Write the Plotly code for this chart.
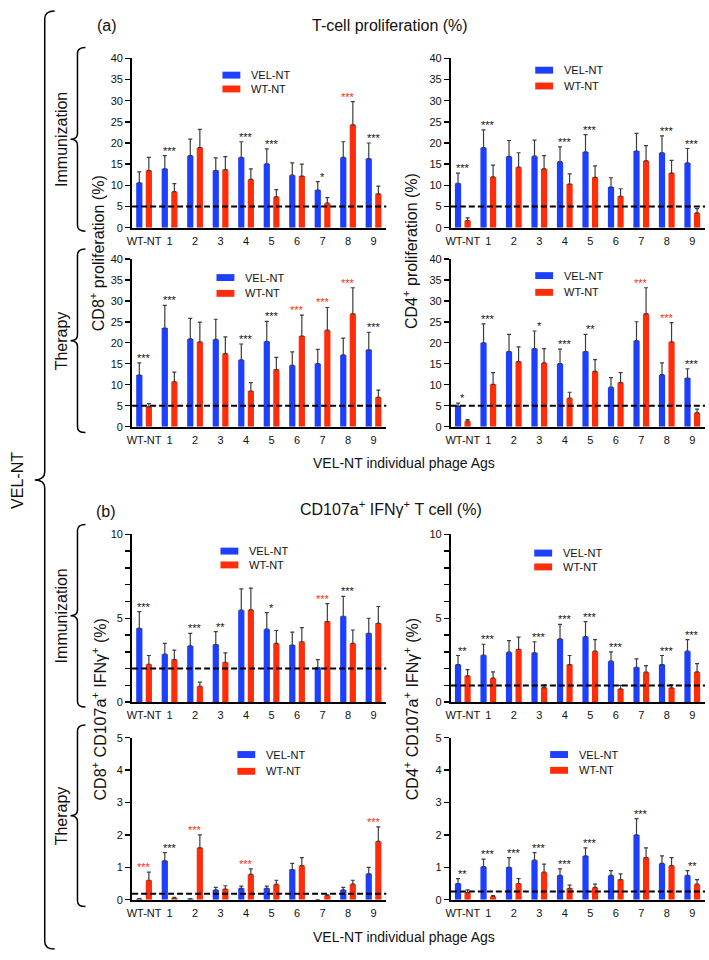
import plotly.graph_objects as go

W, H = 709, 960
FONT = "Liberation Sans, Arial, Helvetica, sans-serif"
NARROW = "Liberation Sans Narrow, Arial Narrow, Liberation Sans, Arial, sans-serif"
BLUE = "#1f3fff"
RED = "#ff2d0a"
STAR_RED = "#ff2d0a"

categories = ["WT-NT", "1", "2", "3", "4", "5", "6", "7", "8", "9"]
series_names = ["VEL-NT", "WT-NT"]

# (a) T-cell proliferation, Immunization, CD8+
a_imm_cd8_vel = [10.6, 13.9, 17.0, 13.5, 16.6, 15.1, 12.4, 8.9, 16.6, 16.3]
a_imm_cd8_vel_sd = [2.6, 3.1, 3.9, 3.0, 3.7, 3.5, 2.9, 2.0, 3.7, 3.7]
a_imm_cd8_wt = [13.5, 8.5, 18.9, 13.7, 11.4, 7.3, 12.2, 5.8, 24.3, 8.0]
a_imm_cd8_wt_sd = [3.1, 1.9, 4.3, 3.1, 2.5, 1.7, 2.8, 1.3, 5.5, 1.8]
a_imm_cd8_stars = ["", "***", "", "", "***", "***", "", "*", "***", "***"]
a_imm_cd8_star_red = [0, 0, 0, 0, 0, 0, 0, 0, 1, 0]

# (a) Immunization, CD4+
a_imm_cd4_vel = [10.5, 18.9, 16.8, 16.9, 15.6, 17.9, 9.6, 18.1, 17.7, 15.3]
a_imm_cd4_vel_sd = [2.4, 4.2, 3.8, 3.8, 3.5, 4.1, 2.2, 4.2, 4.0, 3.4]
a_imm_cd4_wt = [1.7, 12.0, 14.3, 13.9, 10.3, 11.9, 7.4, 15.8, 12.9, 3.5]
a_imm_cd4_wt_sd = [0.6, 2.8, 3.4, 3.1, 2.4, 2.7, 1.8, 3.6, 3.0, 1.0]
a_imm_cd4_stars = ["***", "***", "", "", "***", "***", "", "", "***", "***"]
a_imm_cd4_star_red = [0, 0, 0, 0, 0, 0, 0, 0, 0, 0]

# (a) Therapy, CD8+
a_ther_cd8_vel = [12.3, 23.5, 20.9, 20.8, 15.9, 20.3, 14.6, 15.0, 17.1, 18.3]
a_ther_cd8_vel_sd = [2.9, 5.4, 4.9, 4.8, 3.8, 4.8, 3.2, 3.4, 4.0, 4.2]
a_ther_cd8_wt = [4.7, 10.7, 20.2, 17.4, 8.5, 13.6, 21.6, 23.0, 26.9, 7.0]
a_ther_cd8_wt_sd = [0.8, 2.3, 4.7, 4.0, 2.0, 2.9, 5.0, 5.4, 6.2, 1.7]
a_ther_cd8_stars = ["***", "***", "", "", "***", "***", "***", "***", "***", "***"]
a_ther_cd8_star_red = [0, 0, 0, 0, 0, 0, 1, 1, 1, 0]

# (a) Therapy, CD4+
a_ther_cd4_vel = [4.9, 20.0, 17.9, 18.6, 15.0, 17.9, 9.4, 20.5, 12.4, 11.6]
a_ther_cd4_vel_sd = [0.7, 4.5, 4.1, 4.2, 3.5, 4.1, 2.3, 4.5, 2.8, 2.2]
a_ther_cd4_wt = [1.3, 10.1, 15.5, 15.2, 6.8, 13.2, 10.5, 26.9, 20.2, 3.3]
a_ther_cd4_wt_sd = [0.4, 2.8, 3.5, 3.4, 1.4, 2.8, 2.4, 6.2, 4.6, 0.9]
a_ther_cd4_stars = ["*", "***", "", "*", "***", "**", "", "***", "***", "***"]
a_ther_cd4_star_red = [0, 0, 0, 0, 0, 0, 0, 1, 1, 0]

# (b) CD107a+ IFNg+, Immunization, CD8+
b_imm_cd8_vel = [4.4, 2.86, 3.35, 3.43, 5.48, 4.35, 3.4, 2.06, 5.12, 4.1]
b_imm_cd8_vel_sd = [1.0, 0.64, 0.75, 0.77, 1.27, 0.99, 0.77, 0.48, 1.18, 0.9]
b_imm_cd8_wt = [2.26, 2.54, 0.95, 2.38, 5.5, 3.5, 3.6, 4.8, 3.5, 4.7]
b_imm_cd8_wt_sd = [0.52, 0.56, 0.25, 0.56, 1.3, 0.77, 0.84, 1.07, 0.8, 1.0]
b_imm_cd8_stars = ["***", "", "***", "**", "", "*", "", "***", "***", ""]
b_imm_cd8_star_red = [0, 0, 0, 0, 0, 0, 0, 1, 0, 0]

# (b) Immunization, CD4+
b_imm_cd4_vel = [2.24, 2.8, 2.98, 2.94, 3.77, 3.9, 2.44, 2.08, 2.24, 3.04]
b_imm_cd4_vel_sd = [0.54, 0.65, 0.69, 0.66, 0.87, 0.9, 0.56, 0.5, 0.54, 0.69]
b_imm_cd4_wt = [1.57, 1.43, 3.15, 0.87, 2.24, 3.04, 0.79, 1.79, 0.85, 1.8]
b_imm_cd4_wt_sd = [0.37, 0.37, 0.72, 0.16, 0.54, 0.69, 0.21, 0.39, 0.18, 0.5]
b_imm_cd4_stars = ["**", "***", "", "***", "***", "***", "***", "", "***", "***"]
b_imm_cd4_star_red = [0, 0, 0, 0, 0, 0, 0, 0, 0, 0]

# (b) Therapy, CD8+
b_ther_cd8_vel = [0.03, 1.2, 0.03, 0.3, 0.35, 0.35, 0.93, 0.0, 0.3, 0.8]
b_ther_cd8_vel_sd = [0.0, 0.25, 0.0, 0.08, 0.07, 0.07, 0.19, 0.0, 0.08, 0.2]
b_ther_cd8_wt = [0.6, 0.05, 1.6, 0.33, 0.78, 0.47, 1.05, 0.13, 0.48, 1.8]
b_ther_cd8_wt_sd = [0.25, 0.02, 0.4, 0.1, 0.17, 0.13, 0.25, 0.02, 0.12, 0.45]
b_ther_cd8_stars = ["***", "***", "***", "", "***", "", "", "", "", "***"]
b_ther_cd8_star_red = [1, 0, 1, 0, 1, 0, 0, 0, 0, 1]

# (b) Therapy, CD4+
b_ther_cd4_vel = [0.5, 1.02, 1.0, 1.22, 0.75, 1.35, 0.75, 2.0, 1.12, 0.75]
b_ther_cd4_vel_sd = [0.15, 0.23, 0.3, 0.23, 0.2, 0.25, 0.15, 0.5, 0.23, 0.15]
b_ther_cd4_wt = [0.22, 0.1, 0.5, 0.85, 0.35, 0.38, 0.62, 1.3, 1.05, 0.48]
b_ther_cd4_wt_sd = [0.08, 0.03, 0.15, 0.25, 0.1, 0.1, 0.18, 0.3, 0.25, 0.14]
b_ther_cd4_stars = ["**", "***", "***", "***", "***", "***", "", "***", "", "**"]
b_ther_cd4_star_red = [0, 0, 0, 0, 0, 0, 0, 0, 0, 0]

# background (dashed) thresholds
thresholds = [5, 5, 5, 5, 2.0, 1.0, 0.18, 0.25]

panels = [
    (a_imm_cd8_vel, a_imm_cd8_vel_sd, a_imm_cd8_wt, a_imm_cd8_wt_sd, a_imm_cd8_stars, a_imm_cd8_star_red),
    (a_imm_cd4_vel, a_imm_cd4_vel_sd, a_imm_cd4_wt, a_imm_cd4_wt_sd, a_imm_cd4_stars, a_imm_cd4_star_red),
    (a_ther_cd8_vel, a_ther_cd8_vel_sd, a_ther_cd8_wt, a_ther_cd8_wt_sd, a_ther_cd8_stars, a_ther_cd8_star_red),
    (a_ther_cd4_vel, a_ther_cd4_vel_sd, a_ther_cd4_wt, a_ther_cd4_wt_sd, a_ther_cd4_stars, a_ther_cd4_star_red),
    (b_imm_cd8_vel, b_imm_cd8_vel_sd, b_imm_cd8_wt, b_imm_cd8_wt_sd, b_imm_cd8_stars, b_imm_cd8_star_red),
    (b_imm_cd4_vel, b_imm_cd4_vel_sd, b_imm_cd4_wt, b_imm_cd4_wt_sd, b_imm_cd4_stars, b_imm_cd4_star_red),
    (b_ther_cd8_vel, b_ther_cd8_vel_sd, b_ther_cd8_wt, b_ther_cd8_wt_sd, b_ther_cd8_stars, b_ther_cd8_star_red),
    (b_ther_cd4_vel, b_ther_cd4_vel_sd, b_ther_cd4_wt, b_ther_cd4_wt_sd, b_ther_cd4_stars, b_ther_cd4_star_red),
]

# ---- layout geometry (pixels) ----
X_LEFT = (128, 384)
X_RIGHT = (449, 705)
Y_ROWS = [(53, 224.5), (256, 426), (535, 705), (741, 905)]
legend_pos = [  # swatch-left x, row1 y, row2 y
    (219, 70, 84), (534, 65, 81), (213, 275, 291), (534, 273, 290),
    (217, 552, 566), (533, 554, 568), (234, 758, 775), (549, 758, 774),
]


def px(x):
    return x / W


def py(y):
    return 1 - y / H


fig = go.Figure()
annotations = []
shapes = []

for i, (vel, vel_sd, wt, wt_sd, stars, star_red) in enumerate(panels):
    k = i + 1
    xa = "x" if k == 1 else f"x{k}"
    ya = "y" if k == 1 else f"y{k}"
    col = i % 2
    row = i // 2
    xd = X_LEFT if col == 0 else X_RIGHT
    yd = Y_ROWS[row]
    for name, vals, sd, color in ((series_names[0], vel, vel_sd, BLUE), (series_names[1], wt, wt_sd, RED)):
        fig.add_trace(go.Bar(
            x=categories, y=vals, name=name, marker=dict(color=color, line=dict(width=0)),
            error_y=dict(type="data", array=sd, arrayminus=[0] * len(sd), symmetric=False,
                         color="#3c3c3c", thickness=1.2, width=2),
            xaxis=xa, yaxis=ya, showlegend=False, hoverinfo="skip",
        ))
    xkey = "xaxis" if k == 1 else f"xaxis{k}"
    ykey = "yaxis" if k == 1 else f"yaxis{k}"
    minor = None
    if row < 2:
        yr = [0, 40]
        tv = list(range(0, 41, 5))
    elif row == 2:
        yr = [0, 10]
        tv = [0, 5, 10]
        minor = dict(tickvals=list(range(0, 11)), ticks="outside", ticklen=5,
                     tickwidth=1.5, tickcolor="black", showgrid=False)
    else:
        yr = [0, 5]
        tv = list(range(0, 6))
    ycfg = dict(domain=[py(yd[1]), py(yd[0])], anchor=xa, range=yr,
                tickvals=tv, ticktext=[str(v) for v in tv],
                showline=True, linecolor="black", linewidth=2,
                ticks="outside", ticklen=5, tickwidth=1.5, tickcolor="black",
                showgrid=False, zeroline=False,
                tickfont=dict(family=FONT, size=11, color="#111"))
    if minor:
        ycfg["minor"] = minor
    fig.update_layout(**{
        xkey: dict(domain=[px(xd[0]), px(xd[1])], anchor=ya, type="category",
                   range=[-0.47, 9.5], showline=True, linecolor="black", linewidth=2,
                   ticks="", showgrid=False, zeroline=False,
                   tickfont=dict(family=FONT, size=11, color="#111"), ticklabelstandoff=2),
        ykey: ycfg,
    })
    # dashed threshold line
    shapes.append(dict(type="line", xref=f"{xa} domain", yref=ya, x0=0, x1=1,
                       y0=thresholds[i], y1=thresholds[i],
                       line=dict(color="black", width=2, dash="6px,3px")))
    # significance stars
    for j, s in enumerate(stars):
        if not s:
            continue
        top = max(vel[j] + vel_sd[j], wt[j] + wt_sd[j])
        annotations.append(dict(x=categories[j], y=top, xref=xa, yref=ya, text=s,
                                showarrow=False, yanchor="middle", yshift=5,
                                font=dict(family=FONT, size=11,
                                          color=STAR_RED if star_red[j] else "#111")))
    # legend (swatch + label)
    lx, r1, r2 = legend_pos[i]
    for ry, color, name in ((r1, BLUE, series_names[0]), (r2, RED, series_names[1])):
        shapes.append(dict(type="rect", xref="paper", yref="paper",
                           x0=px(lx), x1=px(lx + 18), y0=py(ry + 3.5), y1=py(ry - 3.5),
                           fillcolor=color, line=dict(width=0)))
        annotations.append(dict(x=px(lx + 27), y=py(ry), xref="paper", yref="paper",
                                text=name, showarrow=False, xanchor="left", yanchor="middle",
                                font=dict(family=FONT, size=11, color="#111")))


def text(x, y, s, size=16, angle=0, family=FONT, xanchor="center"):
    annotations.append(dict(x=px(x), y=py(y), xref="paper", yref="paper", text=s,
                            showarrow=False, xanchor=xanchor, yanchor="middle",
                            textangle=angle, font=dict(family=family, size=size, color="#111")))


# titles
text(103, 20, "(a)")
text(388, 20, "T-cell proliferation (%)")
text(402, 463, "VEL-NT individual phage Ags", size=14)
text(102, 512, "(b)")
text(389, 508, "CD107a<sup>+</sup> IFNγ<sup>+</sup> T cell (%)")
text(402, 943, "VEL-NT individual phage Ags", size=14)

# y-axis titles
text(93, 250, "CD8<sup>+</sup> proliferation (%)", angle=-90)
text(408, 248, "CD4<sup>+</sup> proliferation (%)", angle=-90)
text(95, 712, "CD8<sup>+</sup> CD107a<sup>+</sup> IFNγ<sup>+</sup> (%)", angle=-90)
text(409, 712, "CD4<sup>+</sup> CD107a<sup>+</sup> IFNγ<sup>+</sup> (%)", angle=-90)


def brace(xv, xh, xt, yt, yb, ym, r):
    P = lambda x, y: f"{px(x):.5f},{py(y):.5f}"
    path = (f"M{P(xh, yt)} Q{P(xv, yt)} {P(xv, yt + r)} L{P(xv, ym - r)} "
            f"Q{P(xv, ym)} {P(xt, ym)} Q{P(xv, ym)} {P(xv, ym + r)} "
            f"L{P(xv, yb - r)} Q{P(xv, yb)} {P(xh, yb)}")
    shapes.append(dict(type="path", xref="paper", yref="paper", path=path,
                       line=dict(color="black", width=1.5)))


brace(40, 50, 30, 5, 955, 480, 8)
text(12, 480, "VEL-NT", size=16, angle=-90)
for (yt, yb, lab) in ((42, 228, "Immunization"), (246, 432, "Therapy"),
                      (525, 710, "Immunization"), (728, 912, "Therapy")):
    ym = (yt + yb) / 2
    brace(73, 81, 66, yt, yb, ym, 6)
    text(57, ym, lab, size=16, angle=-90, family=NARROW)

fig.update_layout(
    width=W, height=H, margin=dict(l=0, r=0, t=0, b=0),
    paper_bgcolor="white", plot_bgcolor="white",
    barmode="group", bargap=0.25, bargroupgap=0.35, showlegend=False,
    annotations=annotations, shapes=shapes,
    font=dict(family=FONT, color="#111"),
)

fig.write_html(
    "out.html",
    config={"displayModeBar": False, "staticPlot": True},
    post_script=("document.body.style.margin='0';document.body.style.padding='0';"
                 "document.body.style.overflow='hidden';"
                 "document.documentElement.style.overflow='hidden';"),
)
